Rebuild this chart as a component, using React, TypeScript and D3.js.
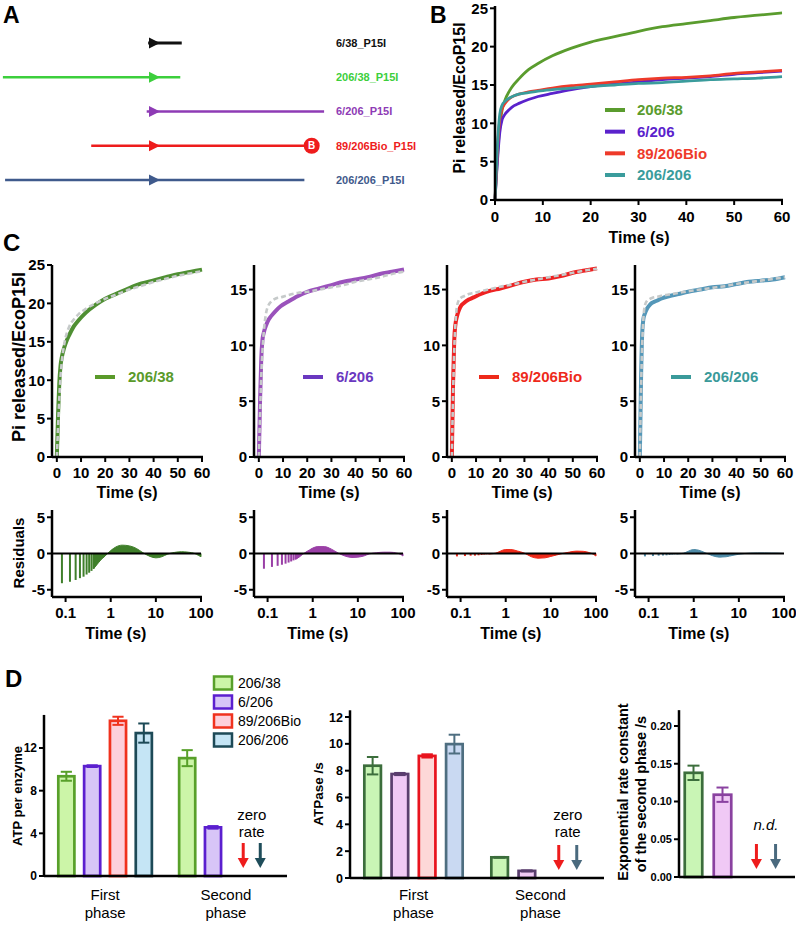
import React from "react";
import * as d3 from "d3";

const FONT = '"Liberation Sans", Arial, Helvetica, sans-serif';

// ---------------- Panel A data ----------------
const constructLabels = ["6/38_P15I", "206/38_P15I", "6/206_P15I", "89/206Bio_P15I", "206/206_P15I"];
const upstreamBp = [8, 207, 10, 86, 204];
const downstreamBp = [38, 36, 233, 216, 206];
const hasBiotin = [false, false, false, true, false];
const constructColors = ["#111111", "#3ccf3c", "#8e3bb5", "#ee1c1c", "#3f5a8c"];

// ---------------- Panels B / C data ----------------
const seriesNames = ["206/38", "6/206", "89/206Bio", "206/206"];
const timeS = [0, 0.5, 1, 1.5, 2, 3, 4, 5, 7, 9, 12, 16, 20, 25, 30, 35, 40, 45, 50, 55, 60];
const pi206_38 = [0, 5.5, 9.5, 11.8, 12.9, 14.2, 15.1, 15.8, 17.0, 17.8, 18.8, 19.8, 20.6, 21.3, 22.0, 22.6, 23.0, 23.4, 23.8, 24.1, 24.4];
const pi6_206 = [0, 5, 8.8, 10.5, 11.1, 11.8, 12.3, 12.6, 13.1, 13.5, 13.9, 14.4, 14.8, 15.1, 15.4, 15.7, 15.9, 16.1, 16.4, 16.6, 16.8];
const pi89_206Bio = [0, 6.5, 10.5, 11.9, 12.5, 13.2, 13.6, 13.8, 14.1, 14.3, 14.6, 14.9, 15.1, 15.4, 15.7, 15.9, 16.0, 16.2, 16.5, 16.7, 16.9];
const pi206_206 = [0, 7, 11.2, 12.4, 12.8, 13.3, 13.6, 13.8, 14.0, 14.2, 14.4, 14.6, 14.8, 15.0, 15.2, 15.3, 15.5, 15.7, 15.8, 15.9, 16.1];
const fit206_38 = [0, 3.8, 7.5, 10.3, 12.2, 14.6, 16.0, 16.9, 17.9, 18.6, 19.3, 20.0, 20.6, 21.2, 21.8, 22.3, 22.8, 23.2, 23.6, 23.9, 24.2];
const fit6_206 = [0, 3.8, 7.2, 9.5, 11.1, 12.9, 13.6, 13.9, 14.2, 14.3, 14.5, 14.7, 14.8, 15.0, 15.2, 15.4, 15.7, 15.9, 16.1, 16.4, 16.6];
const fit89_206Bio = [0, 5.5, 9.6, 12.0, 13.3, 14.1, 14.3, 14.4, 14.6, 14.7, 14.85, 15.05, 15.25, 15.45, 15.7, 15.9, 16.1, 16.3, 16.5, 16.7, 16.85];
const fit206_206 = [0, 6, 10.2, 12.5, 13.5, 14.0, 14.15, 14.25, 14.35, 14.45, 14.55, 14.7, 14.85, 15.0, 15.15, 15.3, 15.5, 15.65, 15.8, 15.95, 16.1];
const releaseData = [pi206_38, pi6_206, pi89_206Bio, pi206_206];
const fitData = [fit206_38, fit6_206, fit89_206Bio, fit206_206];
const bTicksX = [0, 10, 20, 30, 40, 50, 60];
const bTicksY = [0, 5, 10, 15, 20, 25];
const cMax = [25, 17.2, 17.2, 17.2];
const cTicksY = [[0, 5, 10, 15, 20, 25], [0, 5, 10, 15], [0, 5, 10, 15], [0, 5, 10, 15]];

// residuals
const resSpikeT = [0.083, 0.125, 0.167, 0.208, 0.25, 0.292, 0.333, 0.375, 0.417];
const resSpikes = [
  [-4.1, -3.9, -3.65, -3.4, -3.2, -2.9, -2.65, -2.4, -2.1],
  [-2.1, -1.85, -1.7, -1.55, -1.4, -1.25, -1.1, -0.95, -0.8],
  [-0.4, -0.35, -0.3, -0.3, -0.25, -0.2, -0.15, -0.12, -0.08],
  [-0.4, -0.35, -0.3, -0.28, -0.25, -0.2, -0.15, -0.12, -0.08],
];
const resT = [0.417, 0.5, 0.6, 0.75, 0.85, 1.0, 1.3, 1.8, 2.6, 3.7, 5.2, 7.4, 10, 13.5, 18, 26, 37, 52, 73, 87, 100];
const resValues = [
  [-2.1, -1.5, -0.9, -0.35, 0, 0.4, 0.9, 1.15, 1.05, 0.7, 0.1, -0.4, -0.6, -0.45, -0.1, 0.15, 0.25, 0.18, 0, -0.25, -0.45],
  [-0.8, -0.5, -0.1, 0.3, 0.5, 0.75, 0.95, 0.95, 0.6, 0.05, -0.35, -0.55, -0.5, -0.35, -0.05, 0.1, 0.18, 0.18, 0.05, -0.1, -0.35],
  [-0.08, -0.03, 0.05, 0.3, 0.45, 0.55, 0.55, 0.35, 0.05, -0.45, -0.65, -0.6, -0.4, -0.2, 0, 0.2, 0.33, 0.3, 0.1, -0.1, -0.35],
  [-0.08, -0.03, 0.05, 0.3, 0.45, 0.55, 0.45, 0.1, -0.3, -0.5, -0.45, -0.25, -0.1, 0, 0.05, 0.08, 0.08, 0.06, 0.05, 0.02, 0],
];
const resTicksY = [-5, 0, 5];
const resTicksX = [0.1, 1, 10, 100];

// ---------------- Panel D data ----------------
const phases = ["First phase", "Second phase"];
const atpFirst = [9.35, 10.3, 14.55, 13.4];
const atpFirstErr = [0.42, 0.08, 0.38, 0.9];
const atpSecond = [11.05, 4.56, null, null];
const atpSecondErr = [0.75, 0.12, null, null];
const rateFirst = [8.37, 7.75, 9.1, 9.98];
const rateFirstErr = [0.65, 0.08, 0.12, 0.7];
const rateSecond = [1.54, 0.53, null, null];
const rateSecondErr = [0.03, 0.04, null, null];
const kSecond = [0.138, 0.109, null, null];
const kSecondErr = [0.0095, 0.0095, null, null];
const atpTicks = [0, 4, 8, 12];
const rateTicks = [0, 2, 4, 6, 8, 10, 12];
const kTicks = [0, 0.05, 0.1, 0.15, 0.2];

// ---------------- styles ----------------
const bColors = ["#5a9c2e", "#5a22cc", "#ee3a2a", "#3a9c9c"];
const cColors = ["#4f8f33", "#9a52bb", "#ee2222", "#5497b8"];
const cLegendColors = ["#5a9a2a", "#6a38c0", "#ee2a1a", "#3a9a9a"];
const resColors = ["#3f7f2a", "#9a3fa6", "#ee2a1a", "#4e8aa6"];
const cX0 = [52, 254, 447, 635];
const cLegendDx = [43, 49, 32, 36];
const dLeftFill = ["#ccf5a8", "#d7c5f7", "#fdd0dc", "#c5e5f5"];
const dLeftStroke = ["#58a02a", "#5b1fcf", "#f0321e", "#1d4a57"];
const dMidFill = ["#c9f5b5", "#f0c9f5", "#fdd8d8", "#c9d9f2"];
const dMidStroke = ["#3c6e3c", "#5a3e6e", "#e8141e", "#4e6e80"];
const dRightStroke = ["#3c6e3c", "#8a42a0", "#e8141e", "#4e6e80"];
const arrowLeft = ["#ee1c1c", "#1f4d5a"];
const arrowMid = ["#ee1c1c", "#4a6a7e"];

type Lin = d3.ScaleLinear<number, number>;

function YAxis({ scale, x, ticks, fs, fmt, top, bottom }: { scale: any; x: number; ticks: number[]; fs: number; fmt?: (v: number) => string; top: number; bottom: number }) {
  return (
    <g>
      <line x1={x} x2={x} y1={bottom} y2={top} stroke="#000" strokeWidth={2.5} />
      {ticks.map((t) => (
        <g key={t}>
          <line x1={x - 5} x2={x} y1={scale(t)} y2={scale(t)} stroke="#000" strokeWidth={2} />
          <text x={x - 7} y={scale(t)} dy="0.36em" textAnchor="end" fontSize={fs} fontWeight="bold">
            {fmt ? fmt(t) : String(t)}
          </text>
        </g>
      ))}
    </g>
  );
}

function XAxis({ scale, y, ticks, fs, left, right, labelY, fmt }: { scale: any; y: number; ticks: number[]; fs: number; left: number; right: number; labelY: number; fmt?: (v: number) => string }) {
  return (
    <g>
      <line x1={left} x2={right} y1={y} y2={y} stroke="#000" strokeWidth={2.5} />
      {ticks.map((t) => (
        <g key={t}>
          <line x1={scale(t)} x2={scale(t)} y1={y} y2={y + 5} stroke="#000" strokeWidth={2} />
          <text x={scale(t)} y={labelY} textAnchor="middle" fontSize={fs} fontWeight="bold">
            {fmt ? fmt(t) : String(t)}
          </text>
        </g>
      ))}
    </g>
  );
}

function VLabel({ x, y, text, fs, bold = true }: { x: number; y: number; text: string; fs: number; bold?: boolean }) {
  return (
    <text transform={`translate(${x},${y}) rotate(-90)`} textAnchor="middle" dy="0.36em" fontSize={fs} fontWeight={bold ? "bold" : "normal"}>
      {text}
    </text>
  );
}

function PanelA() {
  const x = d3.scaleLinear().domain([0, 100]).range([154, 227]);
  const y = d3.scalePoint<string>().domain(constructLabels).range([43, 180]);
  return (
    <g>
      {constructLabels.map((lab, i) => {
        const yy = y(lab)!;
        const c = constructColors[i];
        const x0 = x(0);
        return (
          <g key={lab}>
            <line x1={x(-upstreamBp[i])} x2={x(downstreamBp[i])} y1={yy} y2={yy} stroke={c} strokeWidth={i === 0 ? 3 : 2.6} />
            <polygon points={`${x0 + 6},${yy} ${x0 - 5},${yy - 5.5} ${x0 - 5},${yy + 5.5}`} fill={c} />
            {hasBiotin[i] && (
              <g>
                <circle cx={x(downstreamBp[i])} cy={yy} r={8} fill={c} />
                <text x={x(downstreamBp[i])} y={yy} dy="0.36em" textAnchor="middle" fontSize={10} fontWeight="bold" fill="#fff">B</text>
              </g>
            )}
            <text x={336} y={yy} dy="0.36em" fontSize={11} fontWeight="bold" fill={c}>{lab}</text>
          </g>
        );
      })}
    </g>
  );
}

function PanelB() {
  const x = d3.scaleLinear().domain([0, 60]).range([495, 782]);
  const y = d3.scaleLinear().domain([0, 25]).range([200, 8.3]);
  const legY = d3.scalePoint<string>().domain(seriesNames).range([110, 175]);
  return (
    <g>
      {releaseData.map((vals, i) => {
        const line = d3.line<number>().x((_, k) => x(timeS[k])).y((v) => y(v)).curve(d3.curveMonotoneX);
        return <path key={i} d={line(vals)!} fill="none" stroke={bColors[i]} strokeWidth={2.8} />;
      })}
      <YAxis scale={y} x={495} ticks={bTicksY} fs={15} top={y(25.3)} bottom={200} />
      <XAxis scale={x} y={200} ticks={bTicksX} fs={15} left={495} right={783} labelY={222} />
      <text x={639} y={243} textAnchor="middle" fontSize={16} fontWeight="bold">Time (s)</text>
      <VLabel x={459} y={98} text="Pi released/EcoP15I" fs={16} />
      {seriesNames.map((s, i) => (
        <g key={s}>
          <line x1={605} x2={625} y1={legY(s)!} y2={legY(s)!} stroke={bColors[i]} strokeWidth={4} />
          <text x={637} y={legY(s)!} dy="0.36em" fontSize={15} fontWeight="bold" fill={bColors[i]}>{s}</text>
        </g>
      ))}
    </g>
  );
}

function PanelC() {
  return (
    <g>
      {seriesNames.map((s, i) => {
        const x0 = cX0[i];
        const x = d3.scaleLinear().domain([-2, 60]).range([x0, x0 + 150]);
        const y = d3.scaleLinear().domain([0, cMax[i]]).range([457, 265]);
        const line = d3.line<number>().x((_, k) => x(timeS[k])).y((v) => y(v)).curve(d3.curveMonotoneX);
        const xr = d3.scaleLog().domain([0.05, 100]).range([x0, x0 + 149]);
        const yr = d3.scaleLinear().domain([-6, 6]).range([597, 510]);
        const area = d3
          .area<number>()
          .x((_, k) => xr(resT[k]))
          .y0(yr(0))
          .y1((v) => yr(v))
          .curve(d3.curveMonotoneX);
        return (
          <g key={s}>
            {/* top fit chart */}
            <path d={line(releaseData[i])!} fill="none" stroke={cColors[i]} strokeWidth={4} />
            <path d={line(fitData[i])!} fill="none" stroke="#c6caca" strokeWidth={2.6} strokeDasharray="5 3" />
            <YAxis scale={y} x={x0} ticks={cTicksY[i]} fs={15} top={265} bottom={457} />
            <XAxis scale={x} y={457} ticks={bTicksX} fs={15} left={x0} right={x(60) + 1} labelY={478} />
            <text x={x(29)} y={498} textAnchor="middle" fontSize={16} fontWeight="bold">Time (s)</text>
            <line x1={x0 + cLegendDx[i]} x2={x0 + cLegendDx[i] + 20} y1={377} y2={377} stroke={cLegendColors[i]} strokeWidth={4} />
            <text x={x0 + cLegendDx[i] + 33} y={377} dy="0.36em" fontSize={15} fontWeight="bold" fill={cLegendColors[i]}>{s}</text>
            {/* residuals */}
            <path d={area(resValues[i])!} fill={resColors[i]} stroke={resColors[i]} strokeWidth={1} />
            {resSpikeT.map((t, k) => (
              <line key={k} x1={xr(t)} x2={xr(t)} y1={yr(0)} y2={yr(resSpikes[i][k])} stroke={resColors[i]} strokeWidth={2} />
            ))}
            <line x1={x0} x2={xr(100)} y1={yr(0)} y2={yr(0)} stroke="#000" strokeWidth={1.8} />
            <YAxis scale={yr} x={x0} ticks={resTicksY} fs={15} top={510} bottom={597} />
            <XAxis scale={xr} y={597} ticks={resTicksX} fs={15} left={x0} right={xr(100) + 1} labelY={618} />
            <text x={xr(1.3)} y={639} textAnchor="middle" fontSize={16} fontWeight="bold">Time (s)</text>
          </g>
        );
      })}
      <VLabel x={19} y={357} text="Pi released/EcoP15I" fs={18} />
      <VLabel x={19} y={553} text="Residuals" fs={15} />
    </g>
  );
}

function Arrow({ x, tip, color }: { x: number; tip: number; color: string }) {
  return (
    <g>
      <line x1={x} x2={x} y1={tip - 25} y2={tip - 8} stroke={color} strokeWidth={3} />
      <polygon points={`${x},${tip} ${x - 5.5},${tip - 10} ${x + 5.5},${tip - 10}`} fill={color} />
    </g>
  );
}

function BarPanel(p: {
  groups: string[];
  values: (number | null)[][];
  errors: (number | null)[][];
  left: number;
  right: number;
  padOuter: number;
  padInner: number;
  barPad: number;
  y: Lin;
  yTop: number;
  ticks: number[];
  fmt?: (v: number) => string;
  tickFs: number;
  fills: string[];
  strokes: string[];
  arrowColors: string[];
  note: string[];
  italic?: boolean;
  showGroups: boolean;
}) {
  const gx = d3.scaleBand<string>().domain(p.groups).range([p.left, p.right]).paddingInner(p.padInner).paddingOuter(p.padOuter);
  const sx = d3.scaleBand<string>().domain(seriesNames).range([0, gx.bandwidth()]).paddingInner(p.barPad).paddingOuter(0);
  const base = p.y(0);
  return (
    <g>
      {p.groups.map((g, gi) => {
        const gl = gx(g)!;
        const nullIdx = seriesNames.map((_, si) => si).filter((si) => p.values[gi][si] == null);
        const mid = nullIdx.length ? d3.mean(nullIdx, (si) => gl + sx(seriesNames[si])! + sx.bandwidth() / 2)! : 0;
        return (
          <g key={g}>
            {seriesNames.map((s, si) => {
              const v = p.values[gi][si];
              if (v == null) return null;
              const e = p.errors[gi][si] ?? 0;
              const bx = gl + sx(s)!;
              const bw = sx.bandwidth();
              const cx = bx + bw / 2;
              const cap = bw * 0.3;
              return (
                <g key={s}>
                  <rect x={bx + 1.25} y={p.y(v)} width={bw - 2.5} height={base - p.y(v)} fill={p.fills[si]} stroke={p.strokes[si]} strokeWidth={2.7} />
                  <line x1={cx} x2={cx} y1={p.y(v - e)} y2={p.y(v + e)} stroke={p.strokes[si]} strokeWidth={2} />
                  <line x1={cx - cap} x2={cx + cap} y1={p.y(v + e)} y2={p.y(v + e)} stroke={p.strokes[si]} strokeWidth={2} />
                  <line x1={cx - cap} x2={cx + cap} y1={p.y(v - e)} y2={p.y(v - e)} stroke={p.strokes[si]} strokeWidth={2} />
                </g>
              );
            })}
            {nullIdx.length > 0 && (
              <g>
                <Arrow x={mid - sx.step() * 0.33} tip={base - 8} color={p.arrowColors[0]} />
                <Arrow x={mid + sx.step() * 0.33} tip={base - 8} color={p.arrowColors[1]} />
                {p.note.map((t, k) => (
                  <text key={k} x={mid} y={(p.note.length === 1 ? 830 : 820) + k * 17} textAnchor="middle" fontSize={15} fontStyle={p.italic ? "italic" : "normal"}>{t}</text>
                ))}
              </g>
            )}
            {p.showGroups &&
              g.split(" ").map((w, k) => (
                <text key={k} x={gl + gx.bandwidth() / 2} y={900 + k * 18} textAnchor="middle" fontSize={15}>{w}</text>
              ))}
          </g>
        );
      })}
      <line x1={p.left} x2={p.right} y1={base} y2={base} stroke="#000" strokeWidth={2.5} />
      <YAxis scale={p.y} x={p.left} ticks={p.ticks} fs={p.tickFs} fmt={p.fmt} top={p.y(p.yTop)} bottom={base} />
    </g>
  );
}

function PanelD() {
  const yAtp = d3.scaleLinear().domain([0, 12]).range([876, 748]);
  const yRate = d3.scaleLinear().domain([0, 12]).range([878, 717]);
  const yK = d3.scaleLinear().domain([0, 0.2]).range([877, 726]);
  const legY = d3.scalePoint<string>().domain(seriesNames).range([683, 740]);
  return (
    <g>
      <BarPanel
        groups={phases}
        values={[atpFirst, atpSecond]}
        errors={[atpFirstErr, atpSecondErr]}
        left={44}
        right={287}
        padOuter={0.108}
        padInner={0.205}
        barPad={0.28}
        y={yAtp}
        yTop={15.1}
        ticks={atpTicks}
        tickFs={12}
        fills={dLeftFill}
        strokes={dLeftStroke}
        arrowColors={arrowLeft}
        note={["zero", "rate"]}
        showGroups
      />
      <VLabel x={17} y={796} text="ATP per enzyme" fs={13} />
      {seriesNames.map((s, i) => (
        <g key={s}>
          <rect x={214} y={legY(s)! - 6.5} width={18} height={13} fill={dLeftFill[i]} stroke={dLeftStroke[i]} strokeWidth={2.5} />
          <text x={238} y={legY(s)!} dy="0.36em" fontSize={14}>{s}</text>
        </g>
      ))}
      <BarPanel
        groups={phases}
        values={[rateFirst, rateSecond]}
        errors={[rateFirstErr, rateSecondErr]}
        left={350}
        right={604}
        padOuter={0.103}
        padInner={0.206}
        barPad={0.3}
        y={yRate}
        yTop={12.5}
        ticks={rateTicks}
        tickFs={12.5}
        fills={dMidFill}
        strokes={dMidStroke}
        arrowColors={arrowMid}
        note={["zero", "rate"]}
        showGroups
      />
      <VLabel x={318} y={794} text="ATPase /s" fs={13.5} />
      <BarPanel
        groups={["Second phase"]}
        values={[kSecond]}
        errors={[kSecondErr]}
        left={679}
        right={795}
        padOuter={0.042}
        padInner={0}
        barPad={0.31}
        y={yK}
        yTop={0.221}
        ticks={kTicks}
        fmt={d3.format(".2f")}
        tickFs={11}
        fills={dMidFill}
        strokes={dRightStroke}
        arrowColors={arrowMid}
        note={["n.d."]}
        italic
        showGroups={false}
      />
      <VLabel x={623} y={792} text="Exponential rate constant" fs={14.5} />
      <VLabel x={641} y={794} text="of the second phase /s" fs={14.5} />
    </g>
  );
}

export default function App() {
  return (
    <svg
      width={796}
      height={925}
      viewBox="0 0 796 925"
      style={{ position: "absolute", left: 0, top: 0, background: "#fff", fontFamily: FONT }}
    >
      <rect width={796} height={925} fill="#fff" />
      <text x={3} y={23} fontSize={23} fontWeight="bold">A</text>
      <text x={430} y={23} fontSize={23} fontWeight="bold">B</text>
      <text x={3} y={251} fontSize={24} fontWeight="bold">C</text>
      <text x={5} y={687} fontSize={24} fontWeight="bold">D</text>
      <PanelA />
      <PanelB />
      <PanelC />
      <PanelD />
    </svg>
  );
}
